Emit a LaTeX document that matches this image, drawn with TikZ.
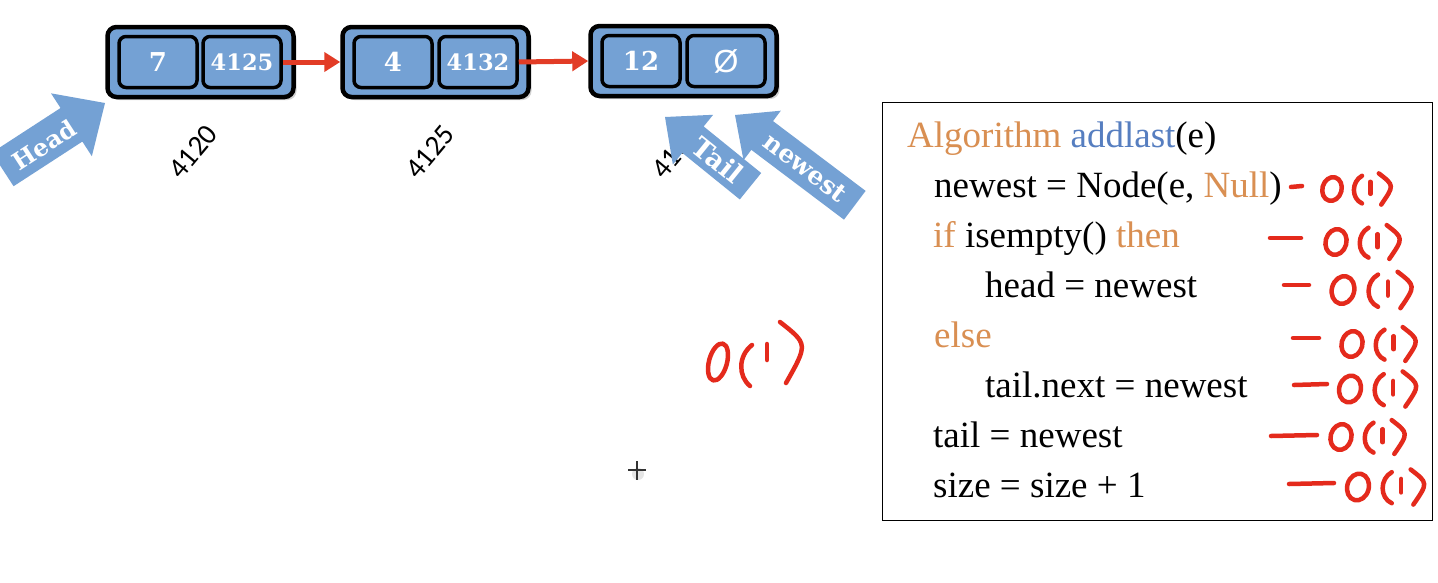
\documentclass[tikz,border=0pt]{standalone}
\usepackage{fontspec}
\setmainfont{Liberation Serif}
\newfontfamily\addrfont{Carlito}
\newfontfamily\slabfont{DejaVu Serif}
\newfontfamily\emptysetfont{Liberation Sans}
\usetikzlibrary{arrows.meta,shadows}

\definecolor{cellblue}{RGB}{116,161,212}
\definecolor{linkred}{RGB}{226,60,38}
\definecolor{kworange}{RGB}{217,143,82}
\definecolor{fnblue}{RGB}{86,126,192}
\definecolor{inkred}{RGB}{228,42,28}

\tikzset{
  listbox/.style={draw=black, line width=4.5pt, rounded corners=9pt, fill=cellblue,
    minimum width=186pt, minimum height=70pt, inner sep=0pt,
    drop shadow={opacity=0.35, shadow xshift=3pt, shadow yshift=-3pt}},
  cellbox/.style={draw=black, line width=3.5pt, rounded corners=7pt, fill=cellblue,
    minimum width=78pt, minimum height=51pt, inner sep=0pt, text=white,
    font=\slabfont\bfseries\fontsize{26}{26}\selectfont},
  smallnum/.style={font=\slabfont\bfseries\fontsize{22.5}{22.5}\selectfont},
  link/.style={draw=linkred, line width=5pt, -{Triangle[length=16pt,width=19pt]}},
  addr/.style={font=\addrfont\fontsize{29}{29}\selectfont, inner sep=0pt},
  arrowtext/.style={text=white, inner sep=0pt, transform shape,
    font=\slabfont\bfseries\fontsize{24}{24}\selectfont},
  code/.style={anchor=base west, inner sep=0pt, font=\fontsize{37}{37}\selectfont},
  redink/.style={draw=inkred, line width=4.5pt, line cap=round, line join=round},
  oone/.pic={
    \draw[redink, rotate=-15] (0,0) ellipse [x radius=8, y radius=10];
    \draw[redink] (25,-11) .. controls (16,-6) and (16,8) .. (25,12);
    \draw[redink] (32,-6) -- (32,4);
    \draw[redink] (39,-13) .. controls (52,-3) .. (41,13);
  }
}

\begin{document}
\begin{tikzpicture}[x=1pt, y=-1pt]
\useasboundingbox (0,0) rectangle (1438,582);
\fill[white] (0,0) rectangle (1438,582);
\clip (0,0) rectangle (1438,582);

% linked list nodes
\node[listbox] (n1) at (200.5,62) {};
\node[cellbox] (c1a) at (158,62) {7};
\node[cellbox, smallnum] (c1b) at (242,62) {4125};

\node[listbox] (n2) at (435.5,62) {};
\node[cellbox] (c2a) at (393,62) {4};
\node[cellbox, smallnum] (c2b) at (478,62) {4132};

\node[listbox] (n3) at (683.5,61) {};
\node[cellbox] (c3a) at (641,61) {12};
\node[cellbox, font=\emptysetfont\fontsize{32}{32}\selectfont] (c3b) at (726,61) {Ø};

\draw[link] (c1b.east) -- (n2.west);
\draw[link] (c2b.east) -- (n3.west);

% node addresses
\node[addr, rotate=50] (a1) at (193,152) {4120};
\node[addr, rotate=50] (a2) at (430,152) {4125};
\node[addr, rotate=50] (a3) at (676,152) {4132};

% head pointer
\begin{scope}[shift={(105,103)}, rotate=33]
  \fill[cellblue] (0,0) -- (-40,37.5) -- (-40,20) -- (-122,20) -- (-122,-20)
    -- (-40,-20) -- (-40,-37.5) -- cycle;
  \node[arrowtext] (headlbl) at (-74,2) {Head};
\end{scope}

% newest pointer
\begin{scope}[shift={(735,115)}, rotate=-37]
  \fill[cellblue] (0,0) -- (34,-31) -- (34,-18) -- (150,-18) -- (150,18)
    -- (34,18) -- (34,31) -- cycle;
  \node[arrowtext, font=\slabfont\bfseries\fontsize{25}{25}\selectfont] (newlbl) at (88,0) {newest};
\end{scope}

% tail pointer
\begin{scope}[shift={(665,117)}, rotate=-39]
  \fill[cellblue] (0,0) -- (36,-32) -- (36,-17) -- (110,-17) -- (110,17)
    -- (36,17) -- (36,32) -- cycle;
  \node[arrowtext, font=\slabfont\bfseries\fontsize{27}{27}\selectfont] (taillbl) at (68,0) {Tail};
\end{scope}

% algorithm box
\node[draw=black, line width=1.3pt, anchor=north west, minimum width=550pt,
  minimum height=418pt, inner sep=0pt] (algbox) at (882,102) {};
\node[code] (l1) at (907,147) {\textcolor{kworange}{Algorithm} \textcolor{fnblue}{addlast}(e)};
\node[code] (l2) at (934,197) {newest = Node(e, \textcolor{kworange}{Null})};
\node[code] (l3) at (933,247) {\textcolor{kworange}{if} isempty() \textcolor{kworange}{then}};
\node[code] (l4) at (985,297) {head = newest};
\node[code] (l5) at (934,347) {\textcolor{kworange}{else}};
\node[code] (l6) at (985,397) {tail.next = newest};
\node[code] (l7) at (933,447) {tail = newest};
\node[code] (l8) at (933,497) {size = size + 1};

% handwritten cost notes
\draw[redink] (1291,187) -- (1302,186);
\pic[scale=1.2] at (1332,189) {oone};
\draw[redink] (1270,238) -- (1301,238);
\pic[scale=1.3] at (1336,242) {oone};
\draw[redink] (1284,285) -- (1309,285);
\pic[scale=1.4] at (1343,290) {oone};
\draw[redink] (1293,338) -- (1319,338);
\pic[scale=1.3] at (1352,344) {oone};
\draw[redink] (1294,385) -- (1327,384);
\pic[scale=1.35] at (1350,389) {oone};
\draw[redink] (1271,436) -- (1317,435);
\pic[scale=1.3] at (1341,437) {oone};
\draw[redink] (1289,484) -- (1334,483);
\pic[scale=1.35] at (1358,487) {oone};

% free-standing O(1)
\draw[redink, rotate around={-15:(718,362)}] (718,362) ellipse [x radius=9, y radius=19];
\draw[redink] (752,345) .. controls (738,356) and (738,376) .. (750,386);
\draw[redink] (767,344) -- (767,360);
\draw[redink] (780,322) .. controls (808,344) .. (786,383);

% pointer cursor
\fill[gray!20] (638,474) circle (6);
\draw[black!80, line width=1.3pt] (628,470) -- (646,470) (637,461) -- (637,480);
\end{tikzpicture}
\end{document}
